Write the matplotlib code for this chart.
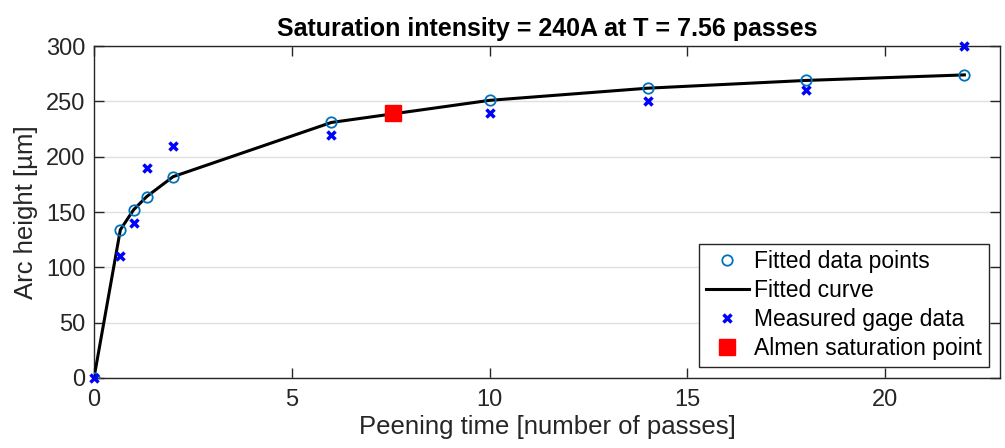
import matplotlib
matplotlib.use("Agg")
import matplotlib.pyplot as plt

# Data
passes = [0, 0.667, 1, 1.333, 2, 6, 10, 14, 18, 22]
fitted = [0, 134, 152, 164, 182, 231, 251, 262, 269, 274]
measured = [0, 110, 140, 190, 210, 220, 240, 250, 260, 300]
sat_T = [7.56]
sat_I = [240]
title_text = "Saturation intensity = 240A at T = 7.56 passes"
xticks = [0, 5, 10, 15, 20]
yticks = [0, 50, 100, 150, 200, 250, 300]

plt.rcParams['font.family'] = ['Liberation Sans', 'DejaVu Sans']
fig = plt.figure(figsize=(10.05, 4.48), dpi=100)
ax = fig.add_axes([0.0935, 0.1563, 0.9015, 0.7407])

axcol = (0.15, 0.15, 0.15)
mblue = (0, 0.447, 0.741)

ax.plot(passes, fitted, 'o', mfc='none', mec=mblue, ms=7.5, mew=1.3, label='Fitted data points', zorder=4)
ax.plot(passes, fitted, '-', color='black', lw=2.2, label='Fitted curve', zorder=3)
ax.plot(passes, measured, 'x', color=(0, 0, 1), ms=6, mew=2.5, label='Measured gage data', zorder=5, clip_on=False)
ax.plot(sat_T, sat_I, 's', color='red', ms=11, label='Almen saturation point', zorder=6)

ax.set_xlim(0, 22.9)
ax.set_ylim(0, 300)
ax.set_xticks(xticks)
ax.set_yticks(yticks)
ax.yaxis.grid(True, color=(0.88, 0.88, 0.88), lw=1)
ax.set_axisbelow(True)
ax.tick_params(direction='in', top=True, right=True, length=7.5, width=1, colors=axcol, labelsize=17, labelcolor=axcol)
ax.tick_params(axis='x', pad=8)
ax.tick_params(axis='y', pad=6)
for s in ax.spines.values():
    s.set_color(axcol)
    s.set_linewidth(1)

ax.set_xlabel('Peening time [number of passes]', fontsize=18.5, color=axcol, labelpad=3)
ax.set_ylabel('Arc height [µm]', fontsize=18.5, color=axcol, labelpad=6)
ax.set_title(title_text, fontsize=18, fontweight='bold', pad=7)

leg = ax.legend(loc='lower right', fontsize=16.5, frameon=True, fancybox=False,
                edgecolor=axcol, framealpha=1, borderaxespad=0.5,
                handlelength=1.9, handletextpad=0.2, labelspacing=0.25, borderpad=0.3)
leg.get_frame().set_linewidth(1)

fig.savefig('out.png', dpi=100)
